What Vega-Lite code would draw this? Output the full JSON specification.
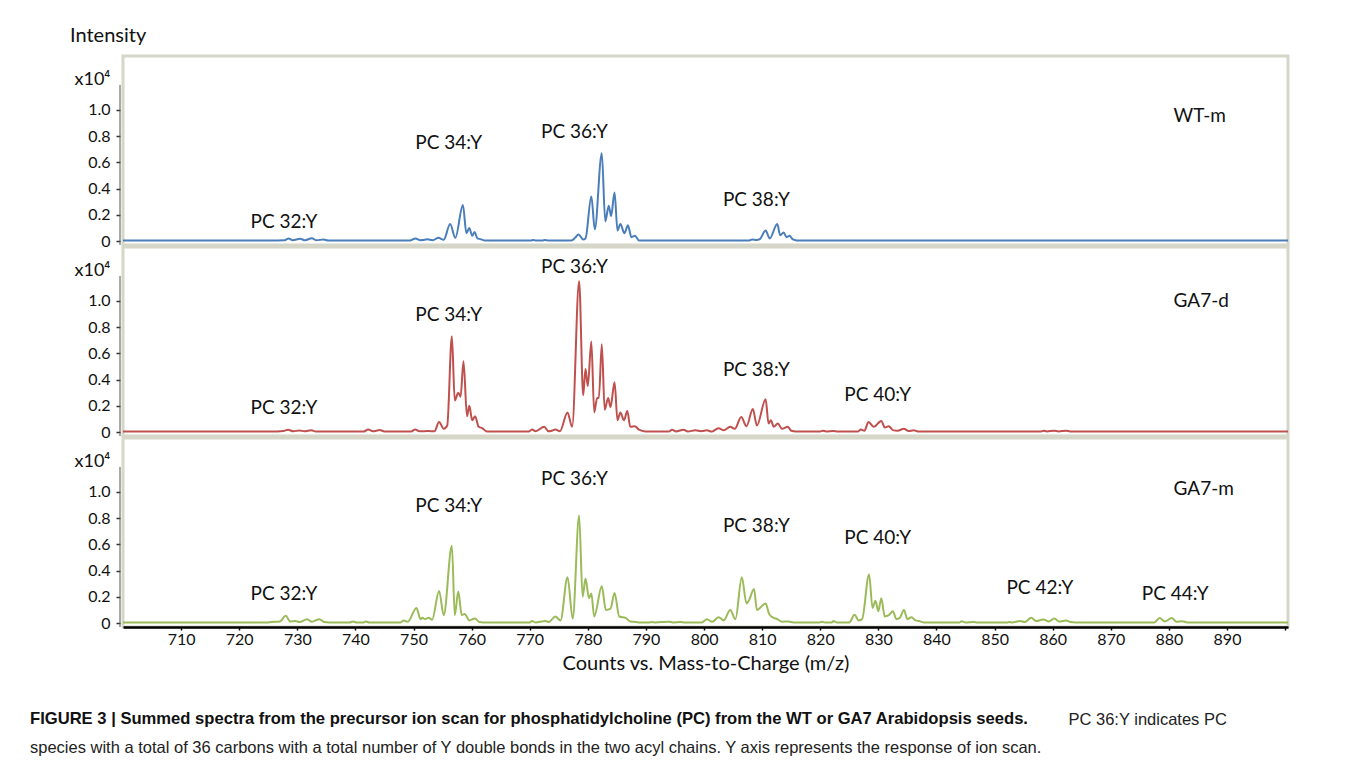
{
  "$schema": "https://vega.github.io/schema/vega-lite/v6.json",
  "padding": {"left": 28, "top": 24, "right": 10, "bottom": 5},
  "background": "white",
  "title": {
    "text": "PC 36:Y indicates PC",
    "orient": "bottom", "anchor": "start", "frame": "bounds", "dx": 1040, "offset": -46,
    "font": "Liberation Sans", "fontSize": 16.5, "fontWeight": "normal", "color": "#222"
  },
  "datasets": {
    "wt": [
      {"mz":700,"v":0.005},{"mz":726.5,"v":0.005},{"mz":727.8,"v":0.006},{"mz":728.5,"v":0.02},{"mz":729.2,"v":0.006},{"mz":730.5,"v":0.018},{"mz":731.3,"v":0.006},{"mz":732.5,"v":0.022},{"mz":733.3,"v":0.006},{"mz":734.5,"v":0.012},{"mz":735.3,"v":0.005},
      {"mz":749.5,"v":0.005},{"mz":750.3,"v":0.02},{"mz":751.2,"v":0.006},{"mz":751.6,"v":0.008},{"mz":752.4,"v":0.013},{"mz":753.3,"v":0.006},{"mz":754.3,"v":0.025},{"mz":755.2,"v":0.01},{"mz":756.3,"v":0.13},{"mz":757.2,"v":0.025},{"mz":758.5,"v":0.275},{"mz":759.1,"v":0.06},{"mz":759.6,"v":0.1},{"mz":760.1,"v":0.04},{"mz":760.5,"v":0.07},{"mz":761.0,"v":0.02},{"mz":761.5,"v":0.015},{"mz":762.2,"v":0.005},
      {"mz":770.2,"v":0.005},{"mz":770.6,"v":0.008},{"mz":771.1,"v":0.005},{"mz":772.2,"v":0.005},{"mz":772.6,"v":0.008},{"mz":773.2,"v":0.005},{"mz":777.2,"v":0.005},{"mz":777.8,"v":0.025},{"mz":778.4,"v":0.05},{"mz":779.2,"v":0.012},{"mz":779.6,"v":0.02},{"mz":780.6,"v":0.34},{"mz":781.2,"v":0.09},{"mz":782.4,"v":0.67},{"mz":783.0,"v":0.15},{"mz":783.6,"v":0.27},{"mz":784.0,"v":0.19},{"mz":784.6,"v":0.37},{"mz":785.1,"v":0.08},{"mz":785.6,"v":0.13},{"mz":786.3,"v":0.06},{"mz":786.9,"v":0.12},{"mz":787.5,"v":0.03},{"mz":788.1,"v":0.04},{"mz":788.8,"v":0.005},
      {"mz":807.8,"v":0.005},{"mz":808.3,"v":0.012},{"mz":809.0,"v":0.008},{"mz":809.6,"v":0.015},{"mz":810.6,"v":0.08},{"mz":811.3,"v":0.02},{"mz":812.6,"v":0.13},{"mz":813.1,"v":0.045},{"mz":813.7,"v":0.065},{"mz":814.2,"v":0.03},{"mz":814.7,"v":0.04},{"mz":815.3,"v":0.012},{"mz":815.9,"v":0.005},{"mz":900.5,"v":0.005}
    ],
    "ga7d": [
      {"mz":700,"v":0.005},{"mz":726.5,"v":0.005},{"mz":727.6,"v":0.008},{"mz":728.4,"v":0.018},{"mz":729.3,"v":0.006},{"mz":730.4,"v":0.012},{"mz":731.2,"v":0.006},{"mz":732.4,"v":0.014},{"mz":733.2,"v":0.005},
      {"mz":741.5,"v":0.005},{"mz":742.2,"v":0.02},{"mz":743.0,"v":0.006},{"mz":744.2,"v":0.015},{"mz":745.0,"v":0.005},
      {"mz":749.6,"v":0.005},{"mz":750.3,"v":0.02},{"mz":751.0,"v":0.006},{"mz":752.5,"v":0.008},{"mz":753.6,"v":0.006},{"mz":754.4,"v":0.077},{"mz":755.2,"v":0.025},{"mz":755.8,"v":0.05},{"mz":756.6,"v":0.73},{"mz":757.1,"v":0.24},{"mz":757.7,"v":0.3},{"mz":758.1,"v":0.27},{"mz":758.6,"v":0.54},{"mz":759.2,"v":0.12},{"mz":759.6,"v":0.2},{"mz":760.1,"v":0.09},{"mz":760.6,"v":0.12},{"mz":761.2,"v":0.04},{"mz":761.8,"v":0.03},{"mz":762.6,"v":0.005},
      {"mz":769.9,"v":0.005},{"mz":770.4,"v":0.02},{"mz":771.0,"v":0.006},{"mz":772.5,"v":0.04},{"mz":773.2,"v":0.006},{"mz":773.8,"v":0.01},{"mz":774.4,"v":0.02},{"mz":775.2,"v":0.006},{"mz":776.5,"v":0.15},{"mz":777.3,"v":0.04},{"mz":778.5,"v":1.15},{"mz":779.2,"v":0.28},{"mz":779.6,"v":0.48},{"mz":780.0,"v":0.35},{"mz":780.6,"v":0.69},{"mz":781.1,"v":0.15},{"mz":781.6,"v":0.26},{"mz":781.9,"v":0.26},{"mz":782.4,"v":0.67},{"mz":782.9,"v":0.17},{"mz":783.5,"v":0.26},{"mz":783.9,"v":0.19},{"mz":784.6,"v":0.38},{"mz":785.1,"v":0.09},{"mz":785.6,"v":0.15},{"mz":786.2,"v":0.09},{"mz":786.8,"v":0.16},{"mz":787.3,"v":0.04},{"mz":788.1,"v":0.045},{"mz":788.8,"v":0.018},{"mz":789.9,"v":0.005},
      {"mz":794.0,"v":0.005},{"mz":794.5,"v":0.018},{"mz":795.2,"v":0.005},{"mz":796.5,"v":0.018},{"mz":797.2,"v":0.005},{"mz":798.5,"v":0.013},{"mz":799.5,"v":0.006},{"mz":800.5,"v":0.013},{"mz":801.3,"v":0.004},{"mz":802.5,"v":0.03},{"mz":803.4,"v":0.013},{"mz":804.5,"v":0.04},{"mz":805.3,"v":0.025},{"mz":806.4,"v":0.115},{"mz":807.3,"v":0.045},{"mz":808.4,"v":0.175},{"mz":809.1,"v":0.05},{"mz":810.6,"v":0.25},{"mz":811.1,"v":0.065},{"mz":811.5,"v":0.09},{"mz":812.0,"v":0.04},{"mz":812.7,"v":0.065},{"mz":813.4,"v":0.025},{"mz":814.4,"v":0.04},{"mz":815.0,"v":0.01},{"mz":815.8,"v":0.005},
      {"mz":820.0,"v":0.005},{"mz":820.4,"v":0.01},{"mz":821.0,"v":0.005},{"mz":822.3,"v":0.008},{"mz":823.0,"v":0.005},{"mz":826.5,"v":0.005},{"mz":827.0,"v":0.02},{"mz":827.6,"v":0.01},{"mz":828.3,"v":0.077},{"mz":829.2,"v":0.04},{"mz":830.5,"v":0.085},{"mz":831.1,"v":0.035},{"mz":831.8,"v":0.045},{"mz":832.5,"v":0.015},{"mz":833.3,"v":0.01},{"mz":834.4,"v":0.025},{"mz":835.2,"v":0.008},{"mz":836.1,"v":0.013},{"mz":836.8,"v":0.005},
      {"mz":858.0,"v":0.005},{"mz":858.4,"v":0.01},{"mz":859.0,"v":0.005},{"mz":860.3,"v":0.01},{"mz":861.0,"v":0.005},{"mz":862.3,"v":0.01},{"mz":863.0,"v":0.005},{"mz":900.5,"v":0.005}
    ],
    "ga7m": [
      {"mz":700,"v":0.005},{"mz":725.0,"v":0.005},{"mz":726.0,"v":0.01},{"mz":727.0,"v":0.012},{"mz":728.0,"v":0.055},{"mz":728.8,"v":0.012},{"mz":729.6,"v":0.015},{"mz":730.4,"v":0.008},{"mz":731.7,"v":0.03},{"mz":732.5,"v":0.01},{"mz":733.8,"v":0.03},{"mz":734.6,"v":0.008},{"mz":735.5,"v":0.005},
      {"mz":739.0,"v":0.005},{"mz":739.6,"v":0.012},{"mz":740.2,"v":0.005},{"mz":741.4,"v":0.005},{"mz":741.8,"v":0.012},{"mz":742.4,"v":0.005},
      {"mz":747.8,"v":0.005},{"mz":748.3,"v":0.02},{"mz":749.0,"v":0.01},{"mz":750.5,"v":0.115},{"mz":751.2,"v":0.03},{"mz":751.5,"v":0.04},{"mz":752.0,"v":0.03},{"mz":752.6,"v":0.04},{"mz":753.2,"v":0.025},{"mz":754.4,"v":0.245},{"mz":755.2,"v":0.06},{"mz":756.6,"v":0.59},{"mz":757.1,"v":0.06},{"mz":757.7,"v":0.24},{"mz":758.3,"v":0.06},{"mz":758.8,"v":0.07},{"mz":759.6,"v":0.02},{"mz":760.6,"v":0.035},{"mz":761.3,"v":0.008},{"mz":762.0,"v":0.005},
      {"mz":770.0,"v":0.005},{"mz":770.4,"v":0.015},{"mz":771.0,"v":0.005},{"mz":772.7,"v":0.015},{"mz":773.3,"v":0.008},{"mz":774.4,"v":0.05},{"mz":775.3,"v":0.02},{"mz":776.5,"v":0.35},{"mz":777.4,"v":0.035},{"mz":778.5,"v":0.82},{"mz":779.1,"v":0.2},{"mz":779.6,"v":0.34},{"mz":780.2,"v":0.19},{"mz":780.6,"v":0.225},{"mz":781.1,"v":0.05},{"mz":782.4,"v":0.28},{"mz":783.1,"v":0.1},{"mz":783.9,"v":0.11},{"mz":784.6,"v":0.23},{"mz":785.4,"v":0.05},{"mz":786.5,"v":0.04},{"mz":787.3,"v":0.012},{"mz":788.3,"v":0.008},{"mz":789.0,"v":0.005},
      {"mz":790.5,"v":0.005},{"mz":791.0,"v":0.008},{"mz":791.6,"v":0.005},{"mz":794.0,"v":0.01},{"mz":794.6,"v":0.005},{"mz":796.0,"v":0.008},{"mz":796.6,"v":0.005},{"mz":799.6,"v":0.005},{"mz":800.5,"v":0.03},{"mz":801.4,"v":0.01},{"mz":802.5,"v":0.045},{"mz":803.4,"v":0.02},{"mz":804.5,"v":0.1},{"mz":805.4,"v":0.03},{"mz":806.5,"v":0.35},{"mz":807.3,"v":0.15},{"mz":807.7,"v":0.17},{"mz":808.6,"v":0.26},{"mz":809.1,"v":0.1},{"mz":810.6,"v":0.15},{"mz":811.2,"v":0.07},{"mz":811.8,"v":0.044},{"mz":812.6,"v":0.03},{"mz":813.4,"v":0.01},{"mz":814.5,"v":0.012},{"mz":815.4,"v":0.005},
      {"mz":819.8,"v":0.005},{"mz":820.3,"v":0.01},{"mz":820.8,"v":0.005},{"mz":822.0,"v":0.005},{"mz":822.3,"v":0.015},{"mz":822.8,"v":0.005},{"mz":825.0,"v":0.005},{"mz":825.9,"v":0.064},{"mz":826.6,"v":0.02},{"mz":827.2,"v":0.03},{"mz":828.4,"v":0.37},{"mz":829.0,"v":0.115},{"mz":829.5,"v":0.17},{"mz":830.0,"v":0.09},{"mz":830.5,"v":0.19},{"mz":831.1,"v":0.05},{"mz":831.8,"v":0.06},{"mz":832.5,"v":0.09},{"mz":833.1,"v":0.03},{"mz":833.7,"v":0.04},{"mz":834.4,"v":0.1},{"mz":835.0,"v":0.03},{"mz":835.7,"v":0.045},{"mz":836.4,"v":0.02},{"mz":837.0,"v":0.015},{"mz":837.8,"v":0.005},
      {"mz":844.0,"v":0.005},{"mz":844.3,"v":0.013},{"mz":845.0,"v":0.005},{"mz":846.4,"v":0.008},{"mz":847.0,"v":0.005},{"mz":852.3,"v":0.005},{"mz":852.5,"v":0.008},{"mz":853.0,"v":0.005},{"mz":854.4,"v":0.015},{"mz":855.2,"v":0.008},{"mz":856.3,"v":0.04},{"mz":857.2,"v":0.015},{"mz":858.4,"v":0.028},{"mz":859.3,"v":0.012},{"mz":860.3,"v":0.035},{"mz":861.1,"v":0.012},{"mz":862.3,"v":0.02},{"mz":863.0,"v":0.008},{"mz":864.0,"v":0.005},
      {"mz":877.5,"v":0.005},{"mz":878.4,"v":0.038},{"mz":879.3,"v":0.012},{"mz":880.5,"v":0.038},{"mz":881.3,"v":0.01},{"mz":882.3,"v":0.014},{"mz":883.2,"v":0.005},{"mz":900.5,"v":0.005}
    ],
    "labels": [
      {"p":"WT-m","t":"PC 32:Y","mz":727.7,"v":0.145},
      {"p":"WT-m","t":"PC 34:Y","mz":756.05,"v":0.75},
      {"p":"WT-m","t":"PC 36:Y","mz":777.7,"v":0.83},
      {"p":"WT-m","t":"PC 38:Y","mz":809.0,"v":0.31},
      {"p":"GA7-d","t":"PC 32:Y","mz":727.7,"v":0.18},
      {"p":"GA7-d","t":"PC 34:Y","mz":756.05,"v":0.895},
      {"p":"GA7-d","t":"PC 36:Y","mz":777.7,"v":1.26},
      {"p":"GA7-d","t":"PC 38:Y","mz":809.0,"v":0.47},
      {"p":"GA7-d","t":"PC 40:Y","mz":829.9,"v":0.28},
      {"p":"GA7-m","t":"PC 32:Y","mz":727.7,"v":0.22},
      {"p":"GA7-m","t":"PC 34:Y","mz":756.05,"v":0.895},
      {"p":"GA7-m","t":"PC 36:Y","mz":777.7,"v":1.1},
      {"p":"GA7-m","t":"PC 38:Y","mz":809.0,"v":0.74},
      {"p":"GA7-m","t":"PC 40:Y","mz":829.9,"v":0.65},
      {"p":"GA7-m","t":"PC 42:Y","mz":857.8,"v":0.27},
      {"p":"GA7-m","t":"PC 44:Y","mz":881.1,"v":0.22}
    ],
    "names": [
      {"p":"WT-m","mz":880.8,"v":0.95},
      {"p":"GA7-d","mz":880.8,"v":1.0},
      {"p":"GA7-m","mz":880.8,"v":1.02}
    ]
  },
  "vconcat": [
    {
      "width": 1165, "height": 189,
      "title": {"text": "Intensity", "anchor": "start", "frame": "group", "dx": -53, "offset": 10, "font": "Lato", "fontSize": 20, "fontWeight": "normal", "color": "#111"},
      "layer": [
        {"data": {"name": "wt"}, "mark": {"type": "line", "color": "#4a7ebb", "strokeWidth": 2, "interpolate": "monotone"},
         "encoding": {
           "x": {"field": "mz", "type": "quantitative", "scale": {"domain": [700, 900.5], "nice": false}, "axis": null},
           "y": {"field": "v", "type": "quantitative", "scale": {"domain": [-0.03, 1.41], "nice": false, "zero": false},
                 "axis": {"values": [0, 0.2, 0.4, 0.6, 0.8, 1], "tickCount": 12, "labelOverlap": false, "labelExpr": "datum.value == 0 ? '0' : format(datum.value, '.1f')", "title": "x10⁴"}}
         }},
        {"data": {"values": [{}]}, "mark": {"type": "rule", "color": "#555", "strokeWidth": 1, "xOffset": -3},
         "encoding": {"x": {"datum": 700}, "y": {"datum": 1.19}, "y2": {"datum": -0.03}}},
        {"data": {"name": "labels"}, "transform": [{"filter": "datum.p == 'WT-m'"}],
         "mark": {"type": "text", "font": "Lato", "fontSize": 19, "color": "#111", "align": "center", "baseline": "middle"},
         "encoding": {"x": {"field": "mz", "type": "quantitative"}, "y": {"field": "v", "type": "quantitative"}, "text": {"field": "t"}}},
        {"data": {"name": "names"}, "transform": [{"filter": "datum.p == 'WT-m'"}],
         "mark": {"type": "text", "font": "Lato", "fontSize": 19, "color": "#111", "align": "left", "baseline": "middle"},
         "encoding": {"x": {"field": "mz", "type": "quantitative"}, "y": {"field": "v", "type": "quantitative"}, "text": {"field": "p"}}}
      ]
    },
    {
      "width": 1165, "height": 189,
      "layer": [
        {"data": {"name": "ga7d"}, "mark": {"type": "line", "color": "#c0504d", "strokeWidth": 2, "interpolate": "monotone"},
         "encoding": {
           "x": {"field": "mz", "type": "quantitative", "scale": {"domain": [700, 900.5], "nice": false}, "axis": null},
           "y": {"field": "v", "type": "quantitative", "scale": {"domain": [-0.03, 1.41], "nice": false, "zero": false},
                 "axis": {"values": [0, 0.2, 0.4, 0.6, 0.8, 1], "tickCount": 12, "labelOverlap": false, "labelExpr": "datum.value == 0 ? '0' : format(datum.value, '.1f')", "title": "x10⁴"}}
         }},
        {"data": {"values": [{}]}, "mark": {"type": "rule", "color": "#555", "strokeWidth": 1, "xOffset": -3},
         "encoding": {"x": {"datum": 700}, "y": {"datum": 1.19}, "y2": {"datum": -0.03}}},
        {"data": {"name": "labels"}, "transform": [{"filter": "datum.p == 'GA7-d'"}],
         "mark": {"type": "text", "font": "Lato", "fontSize": 19, "color": "#111", "align": "center", "baseline": "middle"},
         "encoding": {"x": {"field": "mz", "type": "quantitative"}, "y": {"field": "v", "type": "quantitative"}, "text": {"field": "t"}}},
        {"data": {"name": "names"}, "transform": [{"filter": "datum.p == 'GA7-d'"}],
         "mark": {"type": "text", "font": "Lato", "fontSize": 19, "color": "#111", "align": "left", "baseline": "middle"},
         "encoding": {"x": {"field": "mz", "type": "quantitative"}, "y": {"field": "v", "type": "quantitative"}, "text": {"field": "p"}}}
      ]
    },
    {
      "width": 1165, "height": 189,
      "title": {
        "text": "FIGURE 3 | Summed spectra from the precursor ion scan for phosphatidylcholine (PC) from the WT or GA7 Arabidopsis seeds.",
        "subtitle": "species with a total of 36 carbons with a total number of Y double bonds in the two acyl chains. Y axis represents the response of ion scan.",
        "orient": "bottom", "anchor": "start", "frame": "group", "dx": -93, "offset": 38,
        "font": "Liberation Sans", "fontSize": 16.6, "fontWeight": "bold", "color": "#111",
        "subtitleFont": "Liberation Sans", "subtitleFontSize": 16.5, "subtitleColor": "#222", "subtitlePadding": 12
      },
      "layer": [
        {"data": {"name": "ga7m"}, "mark": {"type": "line", "color": "#9bbb59", "strokeWidth": 2, "interpolate": "monotone"},
         "encoding": {
           "x": {"field": "mz", "type": "quantitative", "scale": {"domain": [700, 900.5], "nice": false},
                 "axis": {"values": [710, 720, 730, 740, 750, 760, 770, 780, 790, 800, 810, 820, 830, 840, 850, 860, 870, 880, 890, 900],
                          "tickCount": 30, "labelExpr": "datum.value == 900 ? '' : datum.label",
                          "title": "Counts vs. Mass-to-Charge (m/z)", "domainColor": "#000", "domainWidth": 2.5, "tickColor": "#000", "tickWidth": 1.5, "tickSize": 3,
                          "labelPadding": 1, "titlePadding": 6, "titleFontSize": 20}},
           "y": {"field": "v", "type": "quantitative", "scale": {"domain": [-0.03, 1.41], "nice": false, "zero": false},
                 "axis": {"values": [0, 0.2, 0.4, 0.6, 0.8, 1], "tickCount": 12, "labelOverlap": false, "labelExpr": "datum.value == 0 ? '0' : format(datum.value, '.1f')", "title": "x10⁴"}}
         }},
        {"data": {"values": [{}]}, "mark": {"type": "rule", "color": "#555", "strokeWidth": 1, "xOffset": -3},
         "encoding": {"x": {"datum": 700}, "y": {"datum": 1.19}, "y2": {"datum": -0.03}}},
        {"data": {"name": "labels"}, "transform": [{"filter": "datum.p == 'GA7-m'"}],
         "mark": {"type": "text", "font": "Lato", "fontSize": 19, "color": "#111", "align": "center", "baseline": "middle"},
         "encoding": {"x": {"field": "mz", "type": "quantitative"}, "y": {"field": "v", "type": "quantitative"}, "text": {"field": "t"}}},
        {"data": {"name": "names"}, "transform": [{"filter": "datum.p == 'GA7-m'"}],
         "mark": {"type": "text", "font": "Lato", "fontSize": 19, "color": "#111", "align": "left", "baseline": "middle"},
         "encoding": {"x": {"field": "mz", "type": "quantitative"}, "y": {"field": "v", "type": "quantitative"}, "text": {"field": "p"}}}
      ]
    }
  ],
  "spacing": 2,
  "bounds": "flush",
  "config": {
    "font": "Lato",
    "view": {"stroke": "#d6d6c9", "strokeWidth": 3},
    "axis": {"grid": false, "labelFont": "Lato", "labelFontSize": 16, "labelColor": "#111", "labelOverlap": false, "titleFont": "Lato", "titleFontWeight": "normal", "titleColor": "#111"},
    "axisY": {"domain": false, "offset": 3, "tickSize": 4, "tickColor": "#333", "tickWidth": 1.5, "labelPadding": 6, "labelOverlap": false,
              "titleAngle": 0, "titleAlign": "left", "titleBaseline": "alphabetic", "titleX": -46, "titleY": 28, "titleFontSize": 18}
  }
}
